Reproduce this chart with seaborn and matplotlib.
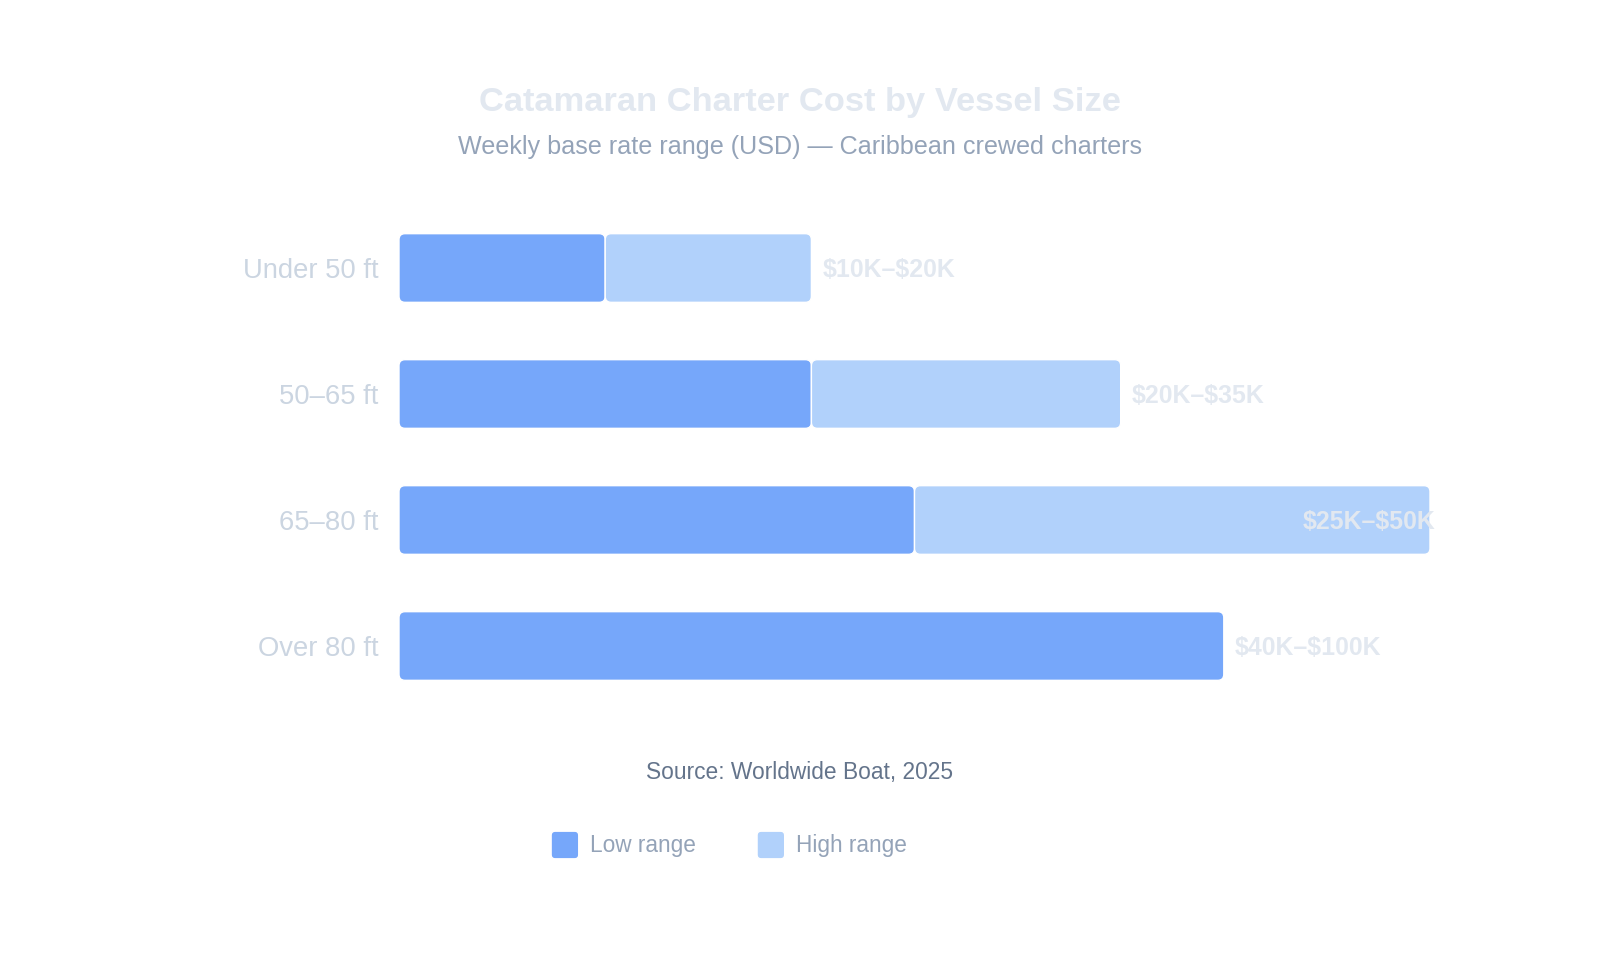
import numpy as np
import pandas as pd
import matplotlib
import seaborn as sns
import matplotlib.pyplot as plt
from matplotlib.patches import FancyBboxPatch, Patch
from matplotlib.legend_handler import HandlerPatch

matplotlib.use('Agg')

# данные
sizes = ["Under 50 ft", "50–65 ft", "65–80 ft", "Over 80 ft"]
low_k = [10, 20, 25, 40]
high_k = [20, 35, 50, 100]
range_labels = ["$10K–$20K", "$20K–$35K", "$25K–$50K", "$40K–$100K"]
x_max = 50  # ось обрезана на $50K

low_color = '#76a7fa'
high_color = '#b1d1fb'

sns.set_style('white')
plt.rcParams['font.family'] = ['Liberation Sans', 'DejaVu Sans']

W, H = 1600, 960
fig = plt.figure(figsize=(16, 9.6), dpi=100)
ax_left, ax_right, ax_top, ax_bottom = 399, 1430, 205, 709  # в пикселях
ax = fig.add_axes([ax_left / W, 1 - ax_bottom / H, (ax_right - ax_left) / W, (ax_bottom - ax_top) / H])

df = pd.DataFrame({'size': sizes, 'low': low_k, 'high': high_k})
df['spread'] = df['high'] - df['low']
# верхний сегмент рисуем только если он помещается в ось
df_high = df[df['high'] <= x_max]

bar_w = 0.545
sns.barplot(data=df, x='low', y='size', order=sizes, orient='h', color=low_color,
            saturation=1, width=bar_w, ax=ax)
n_low = len(ax.patches)
sns.barplot(data=df_high, x='spread', y='size', order=sizes, orient='h', color=high_color,
            saturation=1, width=bar_w, ax=ax)

ax.set_xlim(0, x_max)
ax.set_ylim(len(sizes) - 0.5, -0.5)

# скругляем углы
px_x = ax.bbox.width / x_max
px_y = ax.bbox.height / len(sizes)
aspect = px_x / px_y
r = 6 / px_x

patches = list(ax.patches)
shifts = [0] * n_low + list(df_high['low'])
colors = [low_color] * n_low + [high_color] * (len(patches) - n_low)
for p, sh, c in zip(patches, shifts, colors):
    x, y, w, h = p.get_x() + sh, p.get_y(), p.get_width(), p.get_height()
    p.remove()
    ax.add_patch(FancyBboxPatch((x, y), w, h, boxstyle=f'round,pad=0,rounding_size={r}',
                                mutation_aspect=aspect, fc=c, ec='white', lw=1))

# подписи диапазонов
for i, (lo, hi, lab) in enumerate(zip(low_k, high_k, range_labels)):
    if hi == x_max:
        ax.annotate(lab, xy=(hi, i), xytext=(5, -2), textcoords='offset pixels', parse_math=False,
                    ha='right', va='center', fontsize=17.9, fontweight='bold', color='#e2e8f0')
    else:
        end = hi if hi <= x_max else lo
        ax.annotate(lab, xy=(end, i), xytext=(11, -2), textcoords='offset pixels', parse_math=False,
                    ha='left', va='center', fontsize=17.9, fontweight='bold', color='#e2e8f0')

ax.set_xlabel('')
ax.set_ylabel('')
ax.set_xticks([])
ax.tick_params(axis='y', length=0, pad=15, labelsize=19.7, labelcolor='#cbd5e1')
sns.despine(ax=ax, left=True, bottom=True)

fig.text(0.5, 1 - 102 / H, 'Catamaran Charter Cost by Vessel Size', ha='center', va='center',
         fontsize=24.8, fontweight='bold', color='#e2e8f0')
fig.text(0.5, 1 - 147 / H, 'Weekly base rate range (USD) — Caribbean crewed charters',
         ha='center', va='center', fontsize=18.1, color='#94a3b8')
fig.text(0.5, 1 - 772 / H, 'Source: Worldwide Boat, 2025', ha='center', va='center',
         fontsize=16.4, color='#64748b')


def rounded_handle(legend, orig_handle, xdescent, ydescent, width, height, fontsize):
    return FancyBboxPatch((-xdescent, -ydescent), width, height,
                          boxstyle='round,pad=0,rounding_size=3')


handles = [Patch(facecolor=low_color, label='Low range'), Patch(facecolor=high_color, label='High range')]
fig.legend(handles=handles, loc='center', bbox_to_anchor=(729 / W, 1 - 845 / H), ncol=2,
           frameon=False, fontsize=16.3, labelcolor='#94a3b8', handlelength=1.22, handleheight=1.5,
           handletextpad=0.5, columnspacing=2.7,
           handler_map={Patch: HandlerPatch(patch_func=rounded_handle)})

fig.savefig('out.png', dpi=100, facecolor='white')
